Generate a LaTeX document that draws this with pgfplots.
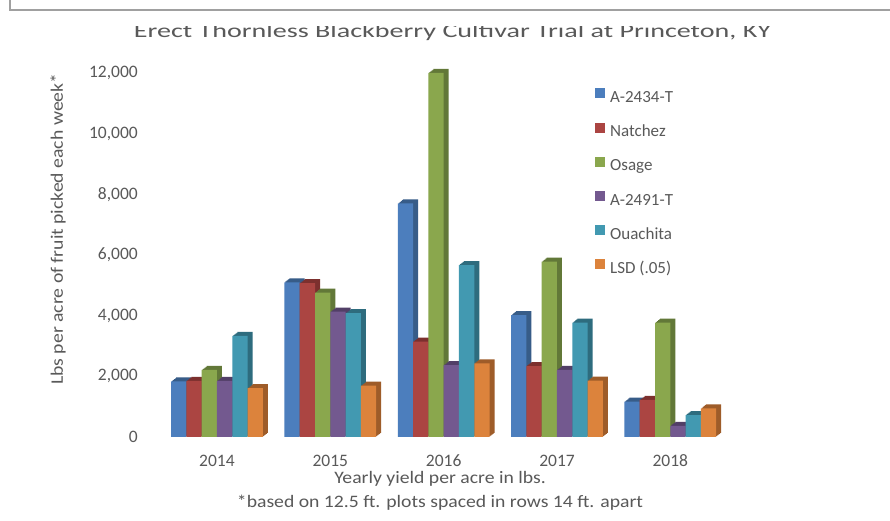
\documentclass[border=0pt]{standalone}
\usepackage{pgfplots}
\pgfplotsset{compat=1.18}
\usepackage{pgfplotstable}
\usepackage{fontspec}
\setmainfont{Carlito}
\definecolor{txt}{HTML}{595959}
\definecolor{brd}{HTML}{A0A0A0}
\definecolor{cA}{HTML}{4C7EBD}\definecolor{dA}{HTML}{375C88}
\definecolor{cN}{HTML}{AB4542}\definecolor{dN}{HTML}{7C302E}
\definecolor{cO}{HTML}{8AA74D}\definecolor{dO}{HTML}{627838}
\definecolor{cP}{HTML}{73598F}\definecolor{dP}{HTML}{523F67}
\definecolor{cQ}{HTML}{4299B1}\definecolor{dQ}{HTML}{2E6C7E}
\definecolor{cL}{HTML}{DC833C}\definecolor{dL}{HTML}{9E5C29}
\pgfplotstableread{
year A N O P Q L
2014 1830 1850 2210 1850 3330 1610
2015 5100 5070 4760 4130 4080 1690
2016 7700 3140 12000 2370 5670 2430
2017 4020 2340 5780 2210 3770 1860
2018 1165 1220 3770 370 725 945
}\data
\pgfplotsset{sqleg/.style={legend image code/.code={\fill[##1] (0pt,0pt) rectangle (10pt,10pt);}}}
\newcommand{\darkbar}[3]{%
\addplot[ybar, bar width=15.3pt, bar shift=#3, fill=#2, draw=none, forget plot, xshift=5pt, yshift=4pt] table[x=year,y=#1]{\data};
\addplot[ybar, bar width=15.3pt, bar shift=#3, fill=#2, draw=none, forget plot, xshift=4pt, yshift=3.2pt] table[x=year,y=#1]{\data};
\addplot[ybar, bar width=15.3pt, bar shift=#3, fill=#2, draw=none, forget plot, xshift=3pt, yshift=2.4pt] table[x=year,y=#1]{\data};
\addplot[ybar, bar width=15.3pt, bar shift=#3, fill=#2, draw=none, forget plot, xshift=2pt, yshift=1.6pt] table[x=year,y=#1]{\data};
\addplot[ybar, bar width=15.3pt, bar shift=#3, fill=#2, draw=none, forget plot, xshift=1pt, yshift=0.8pt] table[x=year,y=#1]{\data};
}
\newcommand{\wide}[1]{\scalebox{1.125}[1]{#1}}
\begin{document}
\begin{tikzpicture}
\path[fill=white, use as bounding box] (0pt,0pt) rectangle (890pt,521pt);
\begin{scope}
\clip (0pt,0pt) rectangle (890pt,494pt);
\node[anchor=base, font=\fontsize{19.5}{23}\selectfont, text=txt, inner sep=0pt] at (452.5pt,483pt) {\scalebox{1.44}[1]{Erect Thornless Blackberry Cultivar Trial at Princeton, KY}};
\end{scope}
\begin{axis}[
  at={(160.3pt,84pt)}, anchor=south west,
  scale only axis, width=566.7pt, height=364pt,
  xmin=2013.5, xmax=2018.5, ymin=0, ymax=12000,
  clip=false,
  axis line style={draw=none}, tick style={draw=none}, major tick length=0pt,
  xtick={2014,2015,2016,2017,2018},
  xticklabels={2014,2015,2016,2017,2018},
  ytick={0,2000,4000,6000,8000,10000,12000},
  yticklabel style={inner sep=0pt, xshift=-22.3pt, font=\fontsize{17.5}{20}\selectfont, text=txt,
    /pgf/number format/.cd, fixed, 1000 sep={,}, assume math mode=true},
  xticklabel style={inner sep=0pt, yshift=-18pt, text height=11pt, text depth=0pt, font=\fontsize{17.5}{20}\selectfont, text=txt},
  scaled y ticks=false,
  xlabel={\wide{Yearly yield per acre in lbs.}},
  xlabel style={at={(axis description cs:0.4936,-0.1277)}, anchor=base, inner sep=0pt, font=\fontsize{17.5}{21}\selectfont, text=txt},
  ylabel={\wide{Lbs per acre of fruit picked each week*}},
  ylabel style={at={(axis description cs:-0.1805,0.571)}, anchor=center, inner sep=0pt, font=\fontsize{17.5}{21}\selectfont, text=txt},
  legend style={at={(axis description cs:0.767,0.958)}, anchor=north west, draw=none, fill=none,
    inner sep=0pt, row sep=16.2pt, column sep=5pt, font=\fontsize{17}{20}\selectfont, text=txt,
    nodes={inner sep=0pt, text height=12pt, text depth=4pt}},
  legend cell align=left,
]
\darkbar{A}{dA}{-38.25pt}
\darkbar{N}{dN}{-22.95pt}
\darkbar{O}{dO}{-7.65pt}
\darkbar{P}{dP}{7.65pt}
\darkbar{Q}{dQ}{22.95pt}
\darkbar{L}{dL}{38.25pt}
\addplot[ybar, bar width=15.3pt, bar shift=-38.25pt, fill=cA, draw=none, sqleg] table[x=year,y=A]{\data};
\addlegendentry{A-2434-T}
\addplot[ybar, bar width=15.3pt, bar shift=-22.95pt, fill=cN, draw=none, sqleg] table[x=year,y=N]{\data};
\addlegendentry{Natchez}
\addplot[ybar, bar width=15.3pt, bar shift=-7.65pt, fill=cO, draw=none, sqleg] table[x=year,y=O]{\data};
\addlegendentry{Osage}
\addplot[ybar, bar width=15.3pt, bar shift=7.65pt, fill=cP, draw=none, sqleg] table[x=year,y=P]{\data};
\addlegendentry{A-2491-T}
\addplot[ybar, bar width=15.3pt, bar shift=22.95pt, fill=cQ, draw=none, sqleg] table[x=year,y=Q]{\data};
\addlegendentry{Ouachita}
\addplot[ybar, bar width=15.3pt, bar shift=38.25pt, fill=cL, draw=none, sqleg] table[x=year,y=L]{\data};
\addlegendentry{LSD (.05)}
\node[anchor=base, font=\fontsize{17.5}{21}\selectfont, text=txt, inner sep=0pt] at (axis description cs:0.4936,-0.195) {\wide{*based on 12.5 ft. plots spaced in rows 14 ft. apart}};
\end{axis}
\draw[brd, line width=1.5pt] (10pt,521pt) -- (10pt,511pt) -- (890pt,511pt);
\end{tikzpicture}
\end{document}
